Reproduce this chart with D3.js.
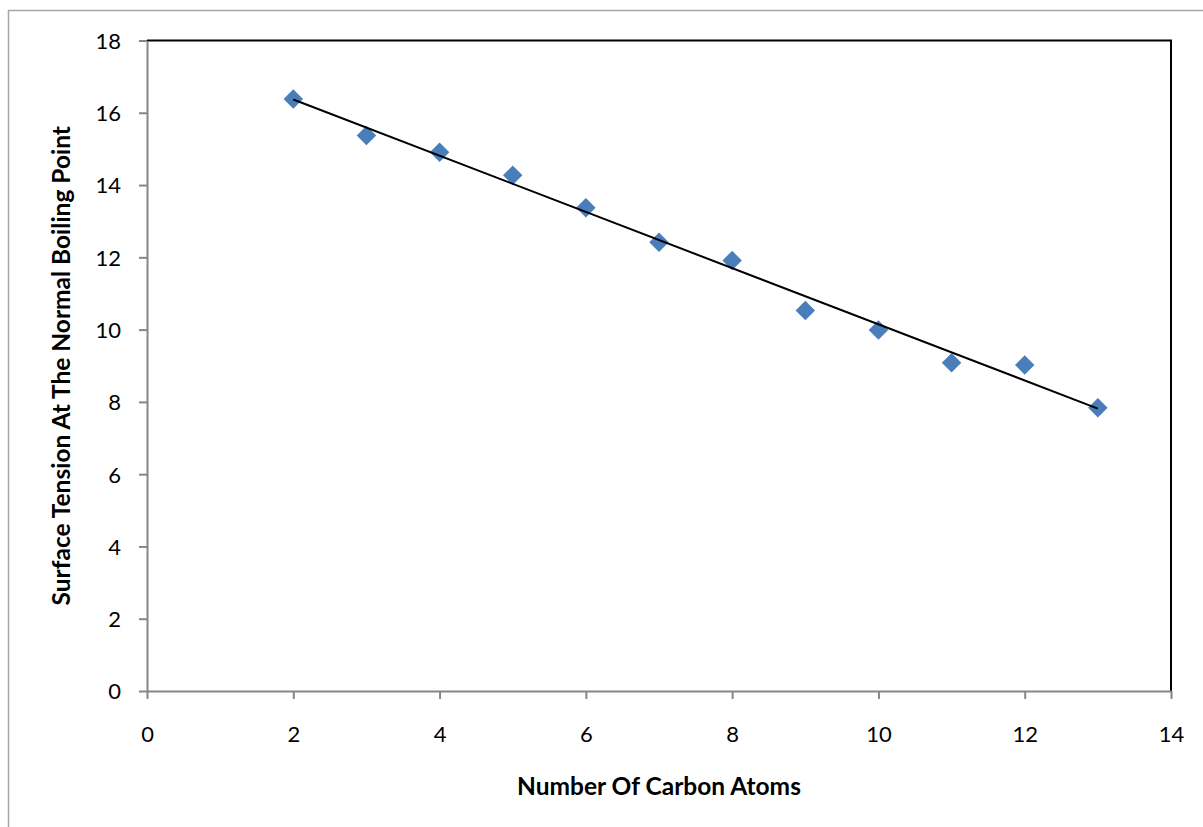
<!DOCTYPE html>
<html>
<head>
<meta charset="utf-8">
<script src="https://cdn.jsdelivr.net/npm/d3@7"></script>
<style>
  html, body { margin: 0; padding: 0; background: #fff; }
  svg { display: block; }
  text { font-family: Lato, "Open Sans", "Liberation Sans", sans-serif; fill: #000; }
</style>
</head>
<body>
<svg id="chart"></svg>
<script>
// data
var carbonAtoms = [2, 3, 4, 5, 6, 7, 8, 9, 10, 11, 12, 13];
var surfaceTension = [16.38, 15.37, 14.91, 14.27, 13.37, 12.42, 11.91, 10.53, 9.99, 9.08, 9.02, 7.84];
var xTicks = [0, 2, 4, 6, 8, 10, 12, 14];
var yTicks = [0, 2, 4, 6, 8, 10, 12, 14, 16, 18];
var xTitle = "Number Of Carbon Atoms";
var yTitle = "Surface Tension At The Normal Boiling Point";

var width = 1203, height = 827;
var plot = { left: 147, top: 40.5, right: 1171, bottom: 691 };

var svg = d3.select("#chart")
    .attr("width", width)
    .attr("height", height);

// outer chart border (runs off right and bottom)
svg.append("rect")
    .attr("x", 8.5).attr("y", 10.5)
    .attr("width", 1400).attr("height", 1000)
    .attr("fill", "#fff")
    .attr("stroke", "#a6a6a6")
    .attr("stroke-width", 1.5);

var x = d3.scaleLinear().domain([0, 14]).range([plot.left, plot.right]);
var y = d3.scaleLinear().domain([0, 18]).range([plot.bottom, plot.top]);

// plot area border (top + right black)
svg.append("path")
    .attr("d", "M" + plot.left + "," + plot.top + "H" + plot.right + "V" + plot.bottom)
    .attr("fill", "none")
    .attr("stroke", "#000")
    .attr("stroke-width", 2);

// y axis
var yaxis = svg.append("g")
    .attr("transform", "translate(" + plot.left + ",0)")
    .call(d3.axisLeft(y).tickValues(yTicks).tickSize(8).tickPadding(18).tickSizeOuter(0));
// x axis
var xaxis = svg.append("g")
    .attr("transform", "translate(0," + plot.bottom + ")")
    .call(d3.axisBottom(x).tickValues(xTicks).tickSize(8).tickPadding(27).tickSizeOuter(0));

[xaxis, yaxis].forEach(function (a) {
    a.select(".domain").attr("stroke", "#868686").attr("stroke-width", 2);
    a.selectAll(".tick line").attr("stroke", "#868686").attr("stroke-width", 2);
    a.selectAll(".tick text")
        .style("font-size", "22px")
        .style("font-family", "Lato, 'Open Sans', sans-serif")
        .attr("fill", "#000");
});
yaxis.selectAll(".tick text").attr("dy", "0.36em");

// linear trendline from least squares
var mx = d3.mean(carbonAtoms), my = d3.mean(surfaceTension);
var sxy = d3.sum(carbonAtoms, function (d, i) { return (d - mx) * (surfaceTension[i] - my); });
var sxx = d3.sum(carbonAtoms, function (d) { return (d - mx) * (d - mx); });
var slope = sxy / sxx, intercept = my - slope * mx;
var x0 = d3.min(carbonAtoms), x1 = d3.max(carbonAtoms);

// points
svg.append("g").selectAll("path")
    .data(carbonAtoms)
    .enter().append("path")
    .attr("d", d3.symbol().type(d3.symbolSquare).size(190))
    .attr("transform", function (d, i) {
        return "translate(" + x(d) + "," + y(surfaceTension[i]) + ") rotate(45)";
    })
    .attr("fill", "#4a7ebb");

svg.append("line")
    .attr("x1", x(x0)).attr("y1", y(slope * x0 + intercept))
    .attr("x2", x(x1)).attr("y2", y(slope * x1 + intercept))
    .attr("stroke", "#000")
    .attr("stroke-width", 2);

// axis titles
svg.append("text")
    .attr("x", (plot.left + plot.right) / 2)
    .attr("y", 786)
    .attr("dy", "0.35em")
    .attr("text-anchor", "middle")
    .style("font-size", "24.5px")
    .style("font-weight", "bold")
    .text(xTitle);

svg.append("text")
    .attr("transform", "translate(61," + ((plot.top + plot.bottom) / 2) + ") rotate(-90)")
    .attr("dy", "0.35em")
    .attr("text-anchor", "middle")
    .style("font-size", "24.5px")
    .style("font-weight", "bold")
    .text(yTitle);
</script>
</body>
</html>
